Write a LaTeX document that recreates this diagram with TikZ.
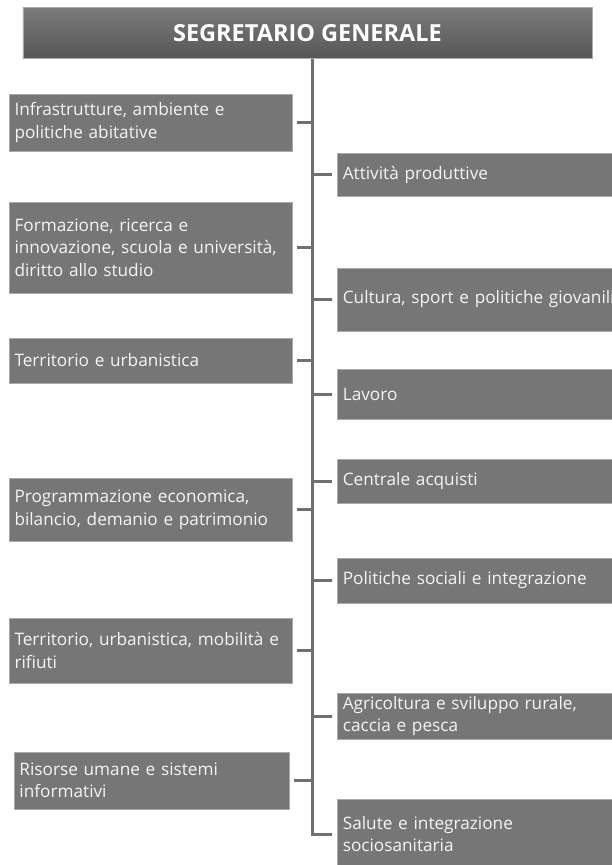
\documentclass[tikz,border=0pt]{standalone}
\usepackage{fontspec}
\setmainfont{Open Sans}
\definecolor{GrigioBox}{RGB}{118,118,118}
\definecolor{GrigioBordo}{RGB}{170,170,170}
\definecolor{GrigioLinea}{RGB}{112,112,112}
\definecolor{GrigioChiaro}{RGB}{124,124,124}
\definecolor{GrigioScuro}{RGB}{86,86,86}
\definecolor{TestoBox}{RGB}{244,244,244}

\begin{document}
\begin{tikzpicture}[x=1pt, y=-1pt,
    box/.style={fill=GrigioBox, draw=GrigioBordo, line width=0.7pt, text=TestoBox,
        inner xsep=5.5pt, inner ysep=0pt, align=left, text width=272pt,
        font=\fontsize{17.2}{22.5}\selectfont},
    ramo/.style={draw=GrigioLinea, line width=3pt}]

\clip (0,0) rectangle (612,865);

% titolo
\node[top color=GrigioChiaro, bottom color=GrigioScuro, draw=GrigioBordo, line width=0.5pt,
    minimum width=569pt, minimum height=51pt, text=white,
    font=\fontsize{23.5}{28}\selectfont\bfseries] (segr) at (307.4,32.8) {SEGRETARIO GENERALE};

% tronco
\coordinate (tronco) at (312,0);

% riquadri a sinistra
\foreach \n/\y/\h/\t in {%
    L1/122.5/57/{Infrastrutture, ambiente e\\politiche abitative},
    L2/247.5/91/{Formazione, ricerca e\\innovazione, scuola e università,\\diritto allo studio},
    L3/360.5/45/{Territorio e urbanistica},
    L4/509.5/63/{Programmazione economica,\\bilancio, demanio e patrimonio},
    L5/650.5/65/{Territorio, urbanistica, mobilità e\\rifiuti}}{%
    \node[box, minimum height=\h pt] (\n) at (150.5,\y) {\t};
}
\node[box, text width=264pt, minimum height=57pt] (L6) at (151.5,780.5)
    {Risorse umane e sistemi\\informativi};

% riquadri a destra
\foreach \n/\y/\h/\t in {%
    R1/174.5/43/{Attività produttive},
    R2/299.5/63/{Cultura, sport e politiche giovanili},
    R3/394/50/{Lavoro},
    R4/481/44/{Centrale acquisti},
    R5/580.5/45/{Politiche sociali e integrazione},
    R6/716/46/{Agricoltura e sviluppo rurale,\\caccia e pesca},
    R7/834/70/{Salute e integrazione\\sociosanitaria}}{%
    \node[box, text width=330pt, minimum height=\h pt, anchor=west] (\n) at (337,\y) {\t};
}

% collegamenti
\foreach \n in {L1,L2,L3,L4,L5,L6}
    \draw[ramo, shorten <=5pt] (\n.east) -- (\n.east -| tronco);
\foreach \n in {R1,R2,R3,R4,R5,R6}
    \draw[ramo, shorten >=5pt] (\n.west -| tronco) -- (\n.west);
\draw[ramo, shorten >=5pt] (segr.south -| tronco) |- (R7.west);

\end{tikzpicture}
\end{document}
